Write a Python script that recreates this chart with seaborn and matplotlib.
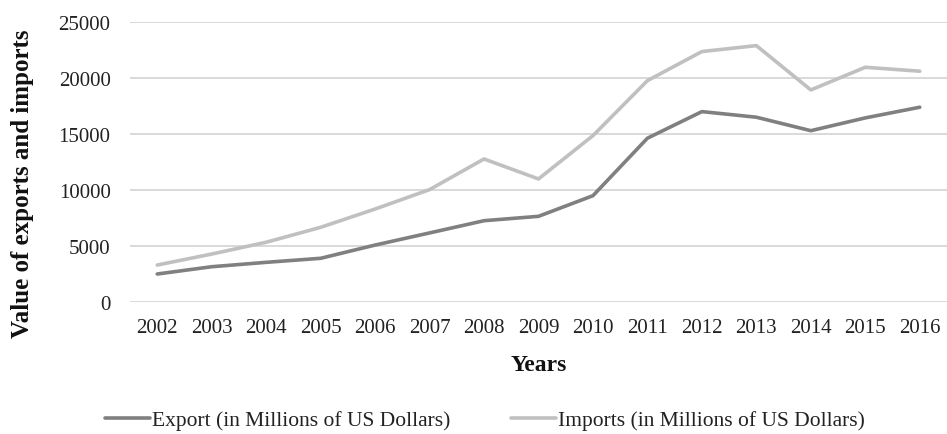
import matplotlib
matplotlib.use("Agg")
import matplotlib.pyplot as plt
import seaborn as sns
import pandas as pd

years = ["2002", "2003", "2004", "2005", "2006", "2007", "2008", "2009",
         "2010", "2011", "2012", "2013", "2014", "2015", "2016"]
exports = [2520, 3170, 3560, 3920, 5100, 6180, 7270, 7660,
           9500, 14620, 16990, 16490, 15290, 16430, 17380]
imports = [3320, 4300, 5350, 6680, 8310, 10040, 12770, 10990,
           14850, 19750, 22340, 22870, 18920, 20940, 20590]
series_names = ["Export (in Millions of US Dollars)",
                "Imports (in Millions of US Dollars)"]
y_ticks = [0, 5000, 10000, 15000, 20000, 25000]

df = pd.DataFrame({
    "Year": years * 2,
    "Value": exports + imports,
    "Series": [series_names[0]] * len(years) + [series_names[1]] * len(years),
})

sns.set_theme(style="white")
plt.rcParams["font.family"] = ["Liberation Serif", "DejaVu Serif"]

fig = plt.figure(figsize=(9.47, 4.35), dpi=100)
ax = fig.add_axes([130 / 947, 1 - 303.3 / 435, 1 - 130 / 947, (303.3 - 22.7) / 435])

palette = {series_names[0]: "#808080", series_names[1]: "#c0c0c0"}
sns.lineplot(data=df, x="Year", y="Value", hue="Series", palette=palette,
             linewidth=2.6, ax=ax, legend=False, sort=False)

ax.set_xlim(-0.5, len(years) - 0.5)
ax.set_ylim(0, 25000)
ax.set_yticks(y_ticks)
ax.set_yticklabels([str(t) for t in y_ticks])
ax.yaxis.grid(True, color="#d9d9d9", linewidth=1.4)
ax.set_axisbelow(True)
for s in ax.spines.values():
    s.set_visible(False)
ax.tick_params(axis="both", length=0, labelsize=15, colors="#222222")
ax.tick_params(axis="y", pad=14)
ax.tick_params(axis="x", pad=11)

ax.set_xlabel("Years", fontsize=17, fontweight="bold", color="#111111")
ax.xaxis.set_label_coords(0.5, (303.3 - 366) / 280.6)
ax.xaxis.label.set_va("center")
ax.set_ylabel("Value of exports and imports", fontsize=18, fontweight="bold",
              color="#111111")
ax.yaxis.set_label_coords((23 - 130) / 817, (303.3 - 184) / 280.6)
ax.yaxis.label.set_va("center")

handles = [plt.Line2D([], [], color=palette[n], linewidth=2.6) for n in series_names]
fig.legend(handles, series_names, loc="center", bbox_to_anchor=(0.512, 1 - 421 / 435),
           ncol=2, frameon=False, fontsize=15.5, handlelength=2.1,
           handletextpad=0.08, columnspacing=2.8, labelcolor="#222222",
           borderpad=0, borderaxespad=0)

fig.savefig("out.png", dpi=100)
